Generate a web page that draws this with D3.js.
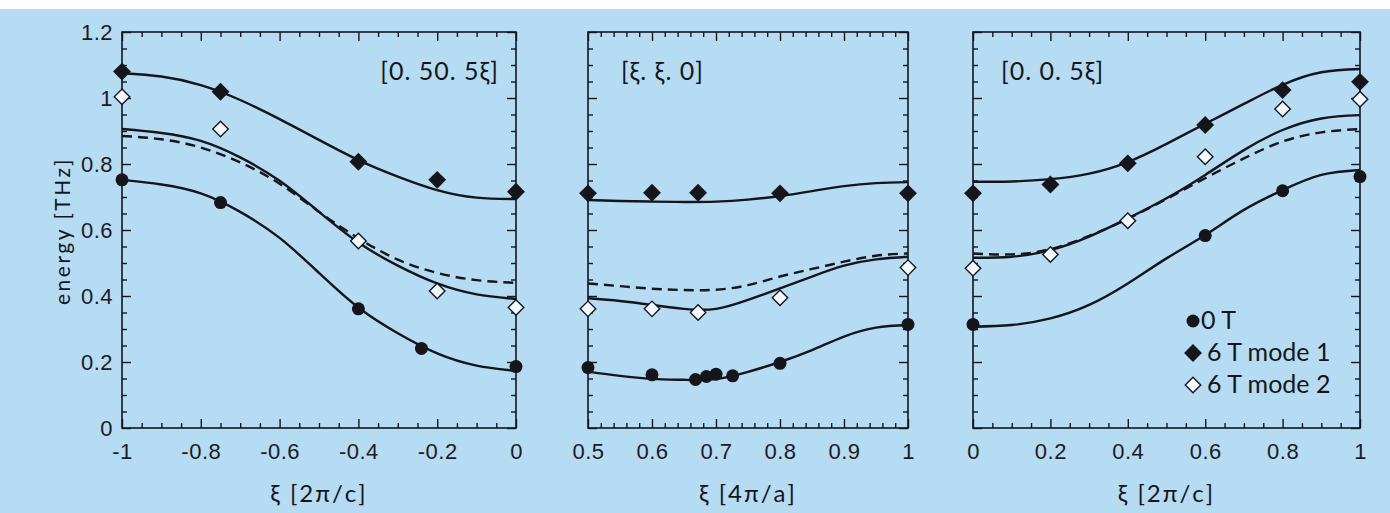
<!DOCTYPE html>
<html>
<head>
<meta charset="utf-8">
<script src="https://cdn.jsdelivr.net/npm/d3@7"></script>
<style>
  body { margin: 0; background: #fff; }
  svg { display: block; font-family: Lato, "Noto Sans", sans-serif; }
  .tick text { font-size: 22px; fill: #1b1b24; letter-spacing: 0.5px; }
</style>
</head>
<body>
<div class="chart"></div>
<script>
var svgWidth = 1390;
var svgHeight = 513;

// y axis (shared by all three panels)
var yTicks = [0, 0.2, 0.4, 0.6, 0.8, 1, 1.2];

// panel 1: [0. 50. 5xi]
var p1Ticks = [-1, -0.8, -0.6, -0.4, -0.2, 0];
var p1CircleX = [-1, -0.75, -0.4, -0.24, 0];
var p1CircleE = [0.752, 0.683, 0.361, 0.241, 0.186];
var p1Mode1X = [-1, -0.75, -0.4, -0.2, 0];
var p1Mode1E = [1.08, 1.019, 0.807, 0.752, 0.716];
var p1Mode2X = [-1, -0.75, -0.4, -0.2, 0];
var p1Mode2E = [1.004, 0.906, 0.567, 0.415, 0.365];
var p1FitX = [-1, -0.9, -0.8, -0.7, -0.6, -0.5, -0.4, -0.3, -0.2, -0.1, 0];
var p1Fit0 = [0.752, 0.738, 0.711, 0.655, 0.576, 0.470, 0.365, 0.287, 0.226, 0.189, 0.173];
var p1Fit1 = [1.075, 1.065, 1.039, 0.994, 0.936, 0.873, 0.812, 0.762, 0.721, 0.698, 0.694];
var p1Fit2 = [0.906, 0.894, 0.870, 0.820, 0.749, 0.655, 0.562, 0.492, 0.438, 0.405, 0.391];
var p1Dash = [0.885, 0.875, 0.850, 0.805, 0.740, 0.655, 0.575, 0.510, 0.470, 0.448, 0.440];

// panel 2: [xi. xi. 0]
var p2Ticks = [0.5, 0.6, 0.7, 0.8, 0.9, 1];
var p2CircleX = [0.5, 0.6, 0.668, 0.685, 0.70, 0.726, 0.8, 1.0];
var p2CircleE = [0.183, 0.161, 0.147, 0.156, 0.163, 0.158, 0.196, 0.314];
var p2Mode1X = [0.5, 0.6, 0.672, 0.8, 1.0];
var p2Mode1E = [0.711, 0.713, 0.713, 0.711, 0.711];
var p2Mode2X = [0.5, 0.6, 0.672, 0.8, 1.0];
var p2Mode2E = [0.361, 0.361, 0.350, 0.395, 0.486];
var p2FitX = [0.5, 0.55, 0.6, 0.65, 0.7, 0.75, 0.8, 0.85, 0.9, 0.95, 1.0];
var p2Fit0 = [0.171, 0.158, 0.149, 0.146, 0.148, 0.170, 0.200, 0.236, 0.277, 0.304, 0.312];
var p2Fit1 = [0.691, 0.688, 0.686, 0.685, 0.686, 0.692, 0.703, 0.718, 0.733, 0.742, 0.745];
var p2Fit2 = [0.393, 0.385, 0.373, 0.361, 0.361, 0.388, 0.423, 0.459, 0.492, 0.511, 0.519];
var p2Dash = [0.438, 0.430, 0.422, 0.418, 0.419, 0.433, 0.459, 0.482, 0.504, 0.522, 0.529];

// panel 3: [0. 0. 5xi]
var p3Ticks = [0, 0.2, 0.4, 0.6, 0.8, 1];
var p3CircleX = [0, 0.6, 0.8, 1.0];
var p3CircleE = [0.314, 0.583, 0.719, 0.762];
var p3Mode1X = [0, 0.2, 0.4, 0.6, 0.8, 1.0];
var p3Mode1E = [0.711, 0.738, 0.802, 0.918, 1.024, 1.049];
var p3Mode2X = [0, 0.2, 0.4, 0.6, 0.8, 1.0];
var p3Mode2E = [0.484, 0.526, 0.628, 0.822, 0.967, 0.996];
var p3FitX = [0, 0.1, 0.2, 0.3, 0.4, 0.5, 0.6, 0.7, 0.8, 0.9, 1.0];
var p3Fit0 = [0.307, 0.312, 0.332, 0.373, 0.438, 0.514, 0.585, 0.661, 0.721, 0.767, 0.782];
var p3Fit1 = [0.746, 0.747, 0.754, 0.771, 0.806, 0.861, 0.922, 0.982, 1.040, 1.078, 1.088];
var p3Fit2 = [0.516, 0.519, 0.539, 0.580, 0.635, 0.696, 0.767, 0.842, 0.903, 0.938, 0.948];
var p3Dash = [0.529, 0.526, 0.542, 0.582, 0.634, 0.694, 0.757, 0.817, 0.868, 0.896, 0.906];

var legendLabels = ["0 T", "6 T mode 1", "6 T mode 2"];

var ink = "#15151c";
var plotTop = 32, plotBottom = 428;

var panels = [
  { left: 122, right: 516, domain: [-1, 0], ticks: p1Ticks, minor: 0.05,
    title: "ξ [2π/c]", tag: "[0. 50. 5ξ]", tagX: 499, tagAnchor: "end",
    circles: [p1CircleX, p1CircleE], mode1: [p1Mode1X, p1Mode1E], mode2: [p1Mode2X, p1Mode2E],
    fitX: p1FitX, fits: [p1Fit0, p1Fit1, p1Fit2], dash: p1Dash },
  { left: 588, right: 908, domain: [0.5, 1], ticks: p2Ticks, minor: 0.02,
    title: "ξ [4π/a]", tag: "[ξ. ξ. 0]", tagX: 621, tagAnchor: "start",
    circles: [p2CircleX, p2CircleE], mode1: [p2Mode1X, p2Mode1E], mode2: [p2Mode2X, p2Mode2E],
    fitX: p2FitX, fits: [p2Fit0, p2Fit1, p2Fit2], dash: p2Dash },
  { left: 973, right: 1360, domain: [0, 1], ticks: p3Ticks, minor: 0.05,
    title: "ξ [2π/c]", tag: "[0. 0. 5ξ]", tagX: 1001, tagAnchor: "start",
    circles: [p3CircleX, p3CircleE], mode1: [p3Mode1X, p3Mode1E], mode2: [p3Mode2X, p3Mode2E],
    fitX: p3FitX, fits: [p3Fit0, p3Fit1, p3Fit2], dash: p3Dash }
];

var svg = d3.select(".chart")
  .append("svg")
  .attr("width", svgWidth)
  .attr("height", svgHeight);

// light blue page, thin white strip along the top
svg.append("rect")
  .attr("x", 0).attr("y", 9)
  .attr("width", svgWidth).attr("height", svgHeight - 9)
  .attr("fill", "#b6dcf3");

var yScale = d3.scaleLinear().domain([0, 1.2]).range([plotBottom, plotTop]);

var fmt = d => String(+d.toFixed(2));

// minor tick values between two ends, skipping the labelled ones
function minorTicks(lo, hi, step, majors) {
  var n = Math.round((hi - lo) / step);
  return d3.range(n + 1).map(i => +(lo + i * step).toFixed(3))
    .filter(v => majors.indexOf(v) < 0);
}
var yMinor = minorTicks(0, 1.2, 0.05, yTicks);

var diamond = d3.symbol().type(d3.symbolSquare);

panels.forEach(function(p, pi) {
  var x = d3.scaleLinear().domain(p.domain).range([p.left, p.right]);
  var xMinor = minorTicks(p.domain[0], p.domain[1], p.minor, p.ticks);
  var g = svg.append("g");

  // ticks on all four sides, pointing inwards
  function addAxis(axis, tx, ty, labels) {
    var a = g.append("g")
      .attr("transform", `translate(${tx}, ${ty})`)
      .call(axis);
    a.select(".domain").remove();
    a.selectAll("line").attr("stroke", ink).attr("stroke-width", 1.4);
    if (!labels) a.selectAll("text").remove();
    return a;
  }
  addAxis(d3.axisBottom(x).tickValues(p.ticks).tickSize(-9).tickPadding(15).tickFormat(fmt), 0, plotBottom, true);
  addAxis(d3.axisBottom(x).tickValues(xMinor).tickSize(-5), 0, plotBottom, false);
  addAxis(d3.axisTop(x).tickValues(p.ticks).tickSize(-9), 0, plotTop, false);
  addAxis(d3.axisTop(x).tickValues(xMinor).tickSize(-5), 0, plotTop, false);
  addAxis(d3.axisLeft(yScale).tickValues(yTicks).tickSize(-9).tickPadding(9).tickFormat(fmt), p.left, 0, pi === 0);
  addAxis(d3.axisLeft(yScale).tickValues(yMinor).tickSize(-5), p.left, 0, false);
  addAxis(d3.axisRight(yScale).tickValues(yTicks).tickSize(-9), p.right, 0, false);
  addAxis(d3.axisRight(yScale).tickValues(yMinor).tickSize(-5), p.right, 0, false);

  g.append("rect")
    .attr("x", p.left).attr("y", plotTop)
    .attr("width", p.right - p.left).attr("height", plotBottom - plotTop)
    .attr("fill", "none")
    .attr("stroke", ink)
    .attr("stroke-width", 1.6);

  // fitted curves
  var line = d3.line()
    .x(d => x(d[0]))
    .y(d => yScale(d[1]))
    .curve(d3.curveNatural);

  p.fits.forEach(function(fit) {
    g.append("path")
      .datum(p.fitX.map((v, i) => [v, fit[i]]))
      .attr("d", line)
      .attr("fill", "none")
      .attr("stroke", ink)
      .attr("stroke-width", 2.4);
  });
  g.append("path")
    .datum(p.fitX.map((v, i) => [v, p.dash[i]]))
    .attr("d", line)
    .attr("fill", "none")
    .attr("stroke", ink)
    .attr("stroke-width", 2.4)
    .attr("stroke-dasharray", "10,6");

  // data points
  g.selectAll(".pt0")
    .data(p.circles[0].map((v, i) => [v, p.circles[1][i]]))
    .enter()
    .append("circle")
    .attr("cx", d => x(d[0]))
    .attr("cy", d => yScale(d[1]))
    .attr("r", 6.5)
    .attr("fill", ink);

  g.selectAll(".pt1")
    .data(p.mode1[0].map((v, i) => [v, p.mode1[1][i]]))
    .enter()
    .append("path")
    .attr("d", diamond.size(160))
    .attr("transform", d => `translate(${x(d[0])}, ${yScale(d[1])}) rotate(45)`)
    .attr("fill", ink);

  g.selectAll(".pt2")
    .data(p.mode2[0].map((v, i) => [v, p.mode2[1][i]]))
    .enter()
    .append("path")
    .attr("d", diamond.size(120))
    .attr("transform", d => `translate(${x(d[0])}, ${yScale(d[1])}) rotate(45)`)
    .attr("fill", "#f2f9fe")
    .attr("stroke", ink)
    .attr("stroke-width", 1.4);

  // panel direction tag
  g.append("text")
    .attr("x", p.tagX)
    .attr("y", 80)
    .attr("text-anchor", p.tagAnchor)
    .attr("font-size", 25)
    .attr("letter-spacing", 1)
    .attr("fill", ink)
    .text(p.tag);

  // x axis title
  g.append("text")
    .attr("x", (p.left + p.right) / 2)
    .attr("y", 502)
    .attr("text-anchor", "middle")
    .attr("font-size", 24)
    .attr("letter-spacing", 2)
    .attr("fill", ink)
    .text(p.title);
});

// y axis title
svg.append("text")
  .attr("transform", "rotate(-90)")
  .attr("x", -231)
  .attr("y", 70)
  .attr("text-anchor", "middle")
  .attr("font-size", 21)
  .attr("letter-spacing", 2.5)
  .attr("fill", ink)
  .text("energy [THz]");

// legend, inside the right panel
var legend = svg.append("g").attr("transform", "translate(1193, 321)");
legendLabels.forEach(function(label, i) {
  var row = legend.append("g").attr("transform", `translate(0, ${i * 32})`);
  if (i === 0) {
    row.append("circle").attr("r", 6.5).attr("fill", ink);
  } else {
    row.append("path")
      .attr("d", diamond.size(i === 1 ? 160 : 120))
      .attr("transform", "rotate(45)")
      .attr("fill", i === 1 ? ink : "#f2f9fe")
      .attr("stroke", i === 1 ? "none" : ink)
      .attr("stroke-width", 1.4);
  }
  row.append("text")
    .attr("x", i === 0 ? 8 : 14)
    .attr("y", 8)
    .attr("font-size", 25)
    .attr("fill", ink)
    .text(label);
});
</script>
</body>
</html>
